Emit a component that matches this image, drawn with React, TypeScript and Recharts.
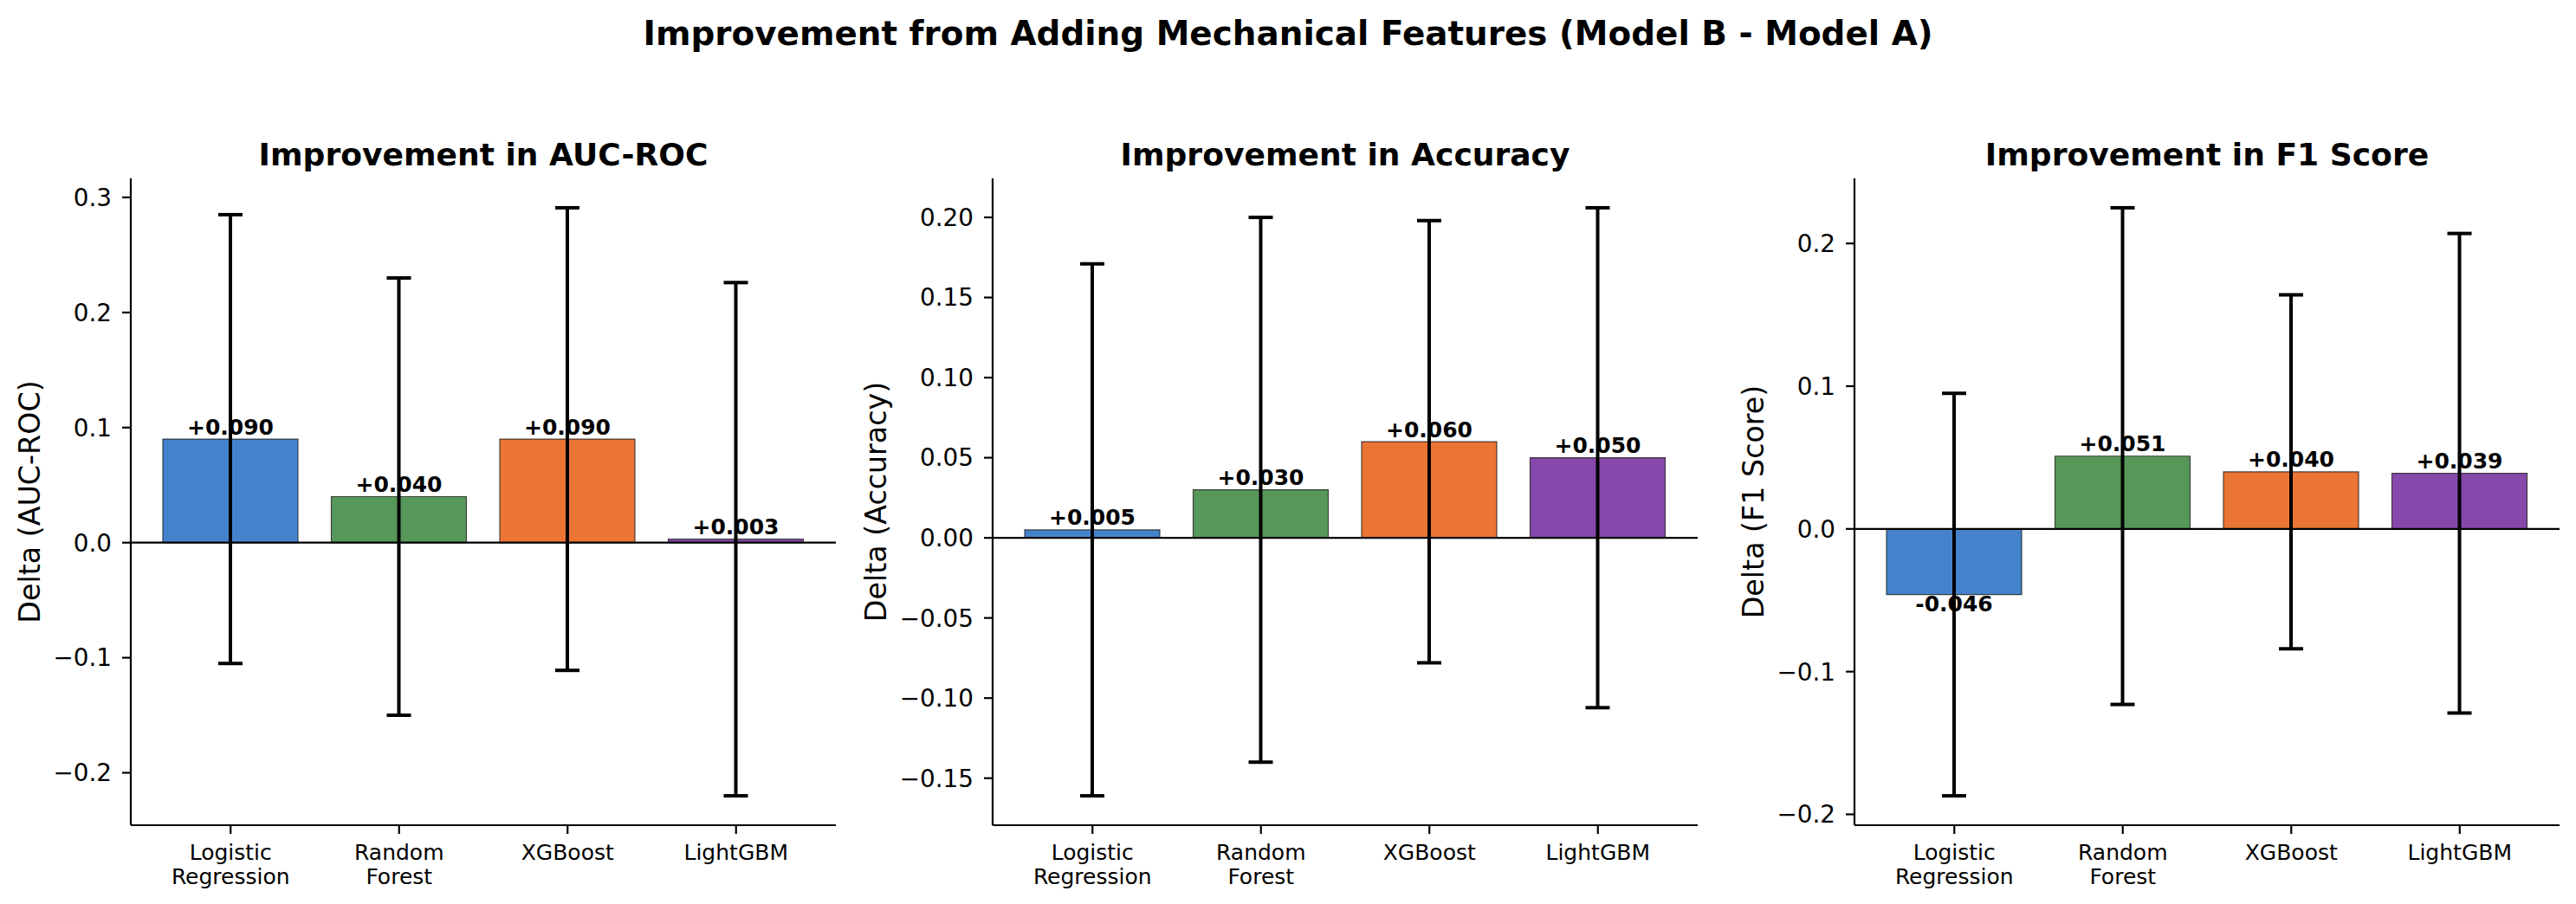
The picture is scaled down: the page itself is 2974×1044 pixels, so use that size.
import React from 'react';
import { BarChart, Bar, XAxis, YAxis, ReferenceLine, ErrorBar, Cell, LabelList } from 'recharts';

const FONT = '"DejaVu Sans", Arial, sans-serif';

// categories and colours
const models = ['Logistic\nRegression', 'Random\nForest', 'XGBoost', 'LightGBM'];
const barColors = ['#4483cb', '#57975a', '#eb7535', '#8748ab'];

// delta values (Model B - Model A) and error half-widths
const aucDelta = [0.09, 0.04, 0.09, 0.003];
const aucErr = [0.195, 0.19, 0.201, 0.223];
const accDelta = [0.005, 0.03, 0.06, 0.05];
const accErr = [0.166, 0.17, 0.138, 0.156];
const f1Delta = [-0.046, 0.051, 0.04, 0.039];
const f1Err = [0.141, 0.174, 0.124, 0.168];

// y tick labels
const aucTicks = [-0.2, -0.1, 0, 0.1, 0.2, 0.3];
const accTicks = [-0.15, -0.1, -0.05, 0, 0.05, 0.1, 0.15, 0.2];
const f1Ticks = [-0.2, -0.1, 0, 0.1, 0.2];

const panels = [
  { title: 'Improvement in AUC-ROC', ylabel: 'Delta (AUC-ROC)', delta: aucDelta, err: aucErr, ticks: aucTicks, decimals: 1, left: 0, labelGap: 117 },
  { title: 'Improvement in Accuracy', ylabel: 'Delta (Accuracy)', delta: accDelta, err: accErr, ticks: accTicks, decimals: 2, left: 995, labelGap: 135 },
  { title: 'Improvement in F1 Score', ylabel: 'Delta (F1 Score)', delta: f1Delta, err: f1Err, ticks: f1Ticks, decimals: 1, left: 1990, labelGap: 117 },
];

const CHART_W = 984;
const CHART_H = 1044;
const AXIS_W = 151;
const PLOT_TOP = 206;
const X_AXIS_H = 91;
const MARGIN_RIGHT = 19;
const PLOT_W = CHART_W - AXIS_W - MARGIN_RIGHT;

// matplotlib-like autoscale: 5% margin around bars + error bars
function autoDomain(delta: number[], err: number[]): [number, number] {
  const lo = Math.min(0, ...delta.map((d, i) => d - err[i]));
  const hi = Math.max(0, ...delta.map((d, i) => d + err[i]));
  const pad = (hi - lo) * 0.05;
  return [lo - pad, hi + pad];
}

const XTick = (props: any) => {
  const { x, y, payload } = props;
  const lines = String(payload.value).split('\n');
  return (
    <text x={x} y={y} textAnchor="middle" fontSize={25} fontFamily={FONT} fill="#000">
      {lines.map((l, i) => (
        <tspan key={i} x={x} dy={i === 0 ? 28 : 27.6}>{l}</tspan>
      ))}
    </text>
  );
};

const ValueLabel = (props: any) => {
  const x = Number(props.x);
  const y = Number(props.y);
  const w = Number(props.width);
  const h = Number(props.height);
  const v = Number(props.value);
  const top = Math.min(y, y + h);
  const bottom = Math.max(y, y + h);
  const text = v >= 0 ? `+${v.toFixed(3)}` : v.toFixed(3);
  return (
    <text x={x + w / 2} y={v >= 0 ? top - 5.5 : bottom + 19} textAnchor="middle" fontSize={25}
      fontWeight="bold" fontFamily={FONT} fill="#000">
      {text}
    </text>
  );
};

function Panel({ p }: { p: (typeof panels)[number] }) {
  const data = models.map((name, i) => ({ name, delta: p.delta[i], err: p.err[i] }));
  const domain = autoDomain(p.delta, p.err);
  const fmt = (v: number) => v.toFixed(p.decimals).replace('-', '\u2212');
  return (
    <div style={{ position: 'absolute', left: p.left, top: 0 }}>
      <BarChart width={CHART_W} height={CHART_H} data={data}
        margin={{ top: PLOT_TOP, right: MARGIN_RIGHT, bottom: 0, left: 0 }}>
        <XAxis dataKey="name" interval={0} height={X_AXIS_H} padding={{ left: 18, right: 18 }}
          tick={<XTick />} tickSize={10}
          tickLine={{ stroke: '#000', strokeWidth: 2.2 }} axisLine={{ stroke: '#000', strokeWidth: 2.2 }} />
        <YAxis type="number" domain={domain} allowDataOverflow ticks={p.ticks} interval={0} width={AXIS_W}
          tickFormatter={fmt} tickSize={10} tickMargin={12}
          tick={{ fontSize: 27.8, fill: '#000', fontFamily: FONT }}
          tickLine={{ stroke: '#000', strokeWidth: 2.2 }} axisLine={{ stroke: '#000', strokeWidth: 2.2 }} />
        <Bar dataKey="delta" barSize={156} isAnimationActive={false} stroke="#222" strokeWidth={1.2} strokeOpacity={0.8}>
          {data.map((_, i) => (
            <Cell key={i} fill={barColors[i]} />
          ))}
          <LabelList dataKey="delta" content={<ValueLabel />} />
          <ErrorBar dataKey="err" width={14} strokeWidth={4} stroke="#000" direction="y" />
        </Bar>
        <ReferenceLine y={0} stroke="#000" strokeWidth={2.2} />
      </BarChart>
    </div>
  );
}

export default function App() {
  const plotMidY = PLOT_TOP + (CHART_H - X_AXIS_H - PLOT_TOP) / 2;
  return (
    <div style={{ position: 'absolute', left: 0, top: 0, width: 2974, height: 1044, background: '#fff' }}>
      {panels.map((p, i) => (
        <Panel key={i} p={p} />
      ))}
      <svg width={2974} height={1044} style={{ position: 'absolute', left: 0, top: 0, pointerEvents: 'none' }}>
        <text x={1487} y={52} textAnchor="middle" fontSize={38.9} fontWeight="bold" fontFamily={FONT} fill="#000">
          Improvement from Adding Mechanical Features (Model B - Model A)
        </text>
        {panels.map((p, i) => {
          const plotLeft = p.left + AXIS_W;
          const cx = plotLeft + PLOT_W / 2;
          const lx = plotLeft - p.labelGap;
          return (
            <g key={i}>
              <text x={cx} y={191} textAnchor="middle" fontSize={36.1} fontWeight="bold" fontFamily={FONT} fill="#000">
                {p.title}
              </text>
              <text x={lx} y={plotMidY} textAnchor="middle" dominantBaseline="central" fontSize={33.3}
                fontFamily={FONT} fill="#000" transform={`rotate(-90 ${lx} ${plotMidY})`}>
                {p.ylabel}
              </text>
            </g>
          );
        })}
      </svg>
    </div>
  );
}
